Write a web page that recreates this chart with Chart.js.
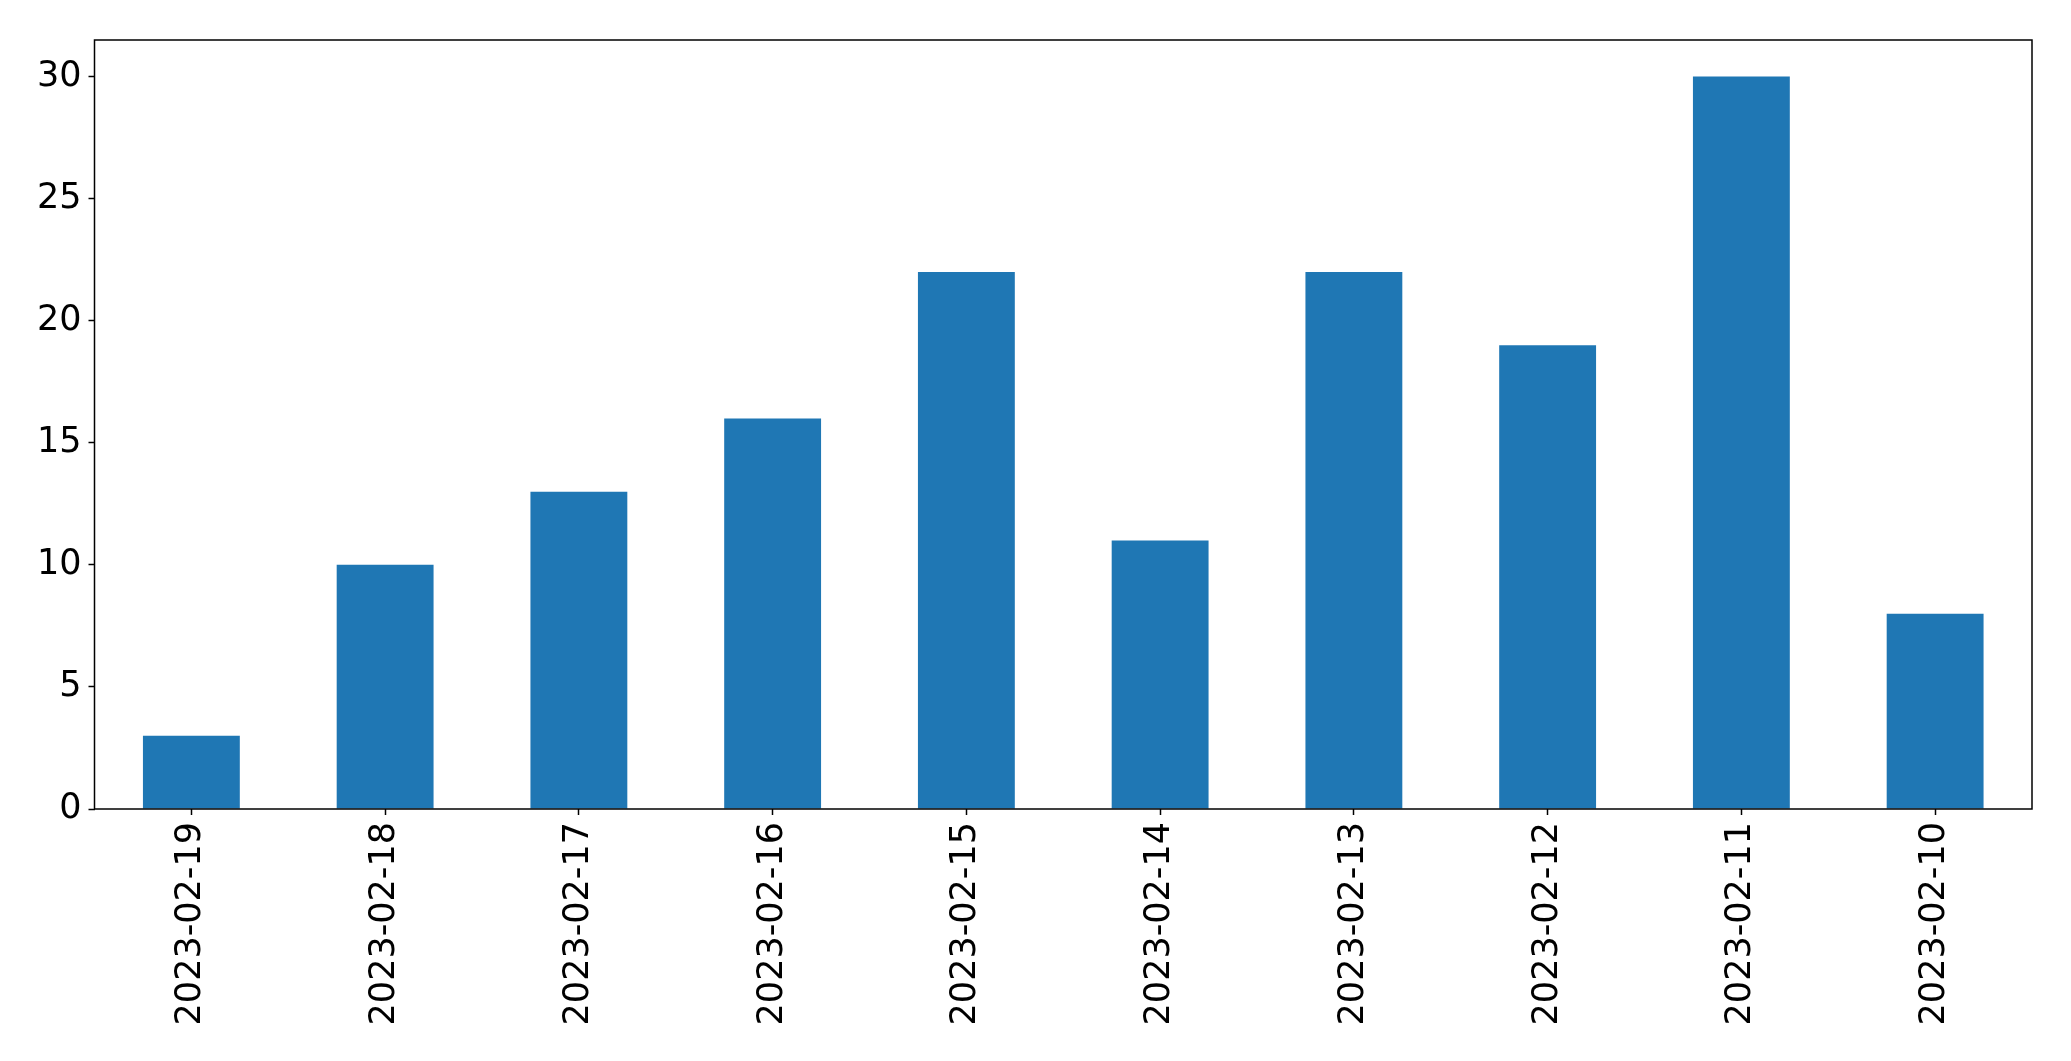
<!DOCTYPE html>
<html>
<head>
<meta charset="utf-8">
<script src="https://cdn.jsdelivr.net/npm/chart.js@4"></script>
<style>
  html, body { margin: 0; padding: 0; background: #fff; }
  #wrap { width: 2071px; height: 1061px; }
</style>
</head>
<body>
<div id="wrap"><canvas id="barChart" width="2071" height="1061"></canvas></div>
<script>
// values
const dates = ['2023-02-19', '2023-02-18', '2023-02-17', '2023-02-16', '2023-02-15',
               '2023-02-14', '2023-02-13', '2023-02-12', '2023-02-11', '2023-02-10'];
const counts = [3, 10, 13, 16, 22, 11, 22, 19, 30, 8];
const yTicks = [0, 5, 10, 15, 20, 25, 30];

// draw the full box round the plot area, like matplotlib does
const frame = {
    id: 'frame',
    afterDraw(chart) {
        const { ctx, chartArea: a } = chart;
        ctx.save();
        ctx.strokeStyle = '#000';
        ctx.lineWidth = 1.5;
        ctx.strokeRect(a.left, a.top, a.right - a.left, a.bottom - a.top);
        ctx.restore();
    }
};

const ctx = document.getElementById('barChart').getContext('2d');
new Chart(ctx, {
    type: 'bar',
    data: {
        labels: dates,
        datasets: [{
            data: counts,
            backgroundColor: '#1f77b4',
            borderWidth: 0,
            barPercentage: 0.5,
            categoryPercentage: 1.0
        }]
    },
    options: {
        responsive: false,
        animation: false,
        layout: { padding: { top: 40, right: 39, left: 0, bottom: 0 } },
        plugins: { legend: { display: false }, tooltip: { enabled: false } },
        scales: {
            x: {
                afterFit: s => { s.height = 252; },
                grid: { offset: false, drawOnChartArea: false, tickLength: 6, tickColor: '#000', tickWidth: 1.5 },
                border: { display: false },
                ticks: {
                    color: '#000',
                    font: { family: 'DejaVu Sans', size: 35 },
                    minRotation: 90,
                    maxRotation: 90,
                    padding: 7,
                    autoSkip: false
                }
            },
            y: {
                min: 0,
                max: 31.5,
                afterFit: s => { s.width = 94.5; },
                afterBuildTicks: s => { s.ticks = yTicks.map(v => ({ value: v })); },
                grid: { drawOnChartArea: false, tickLength: 6, tickColor: '#000', tickWidth: 1.5 },
                border: { display: false },
                ticks: {
                    color: '#000',
                    font: { family: 'DejaVu Sans', size: 35 },
                    padding: 7
                }
            }
        }
    },
    plugins: [frame]
});
</script>
</body>
</html>
